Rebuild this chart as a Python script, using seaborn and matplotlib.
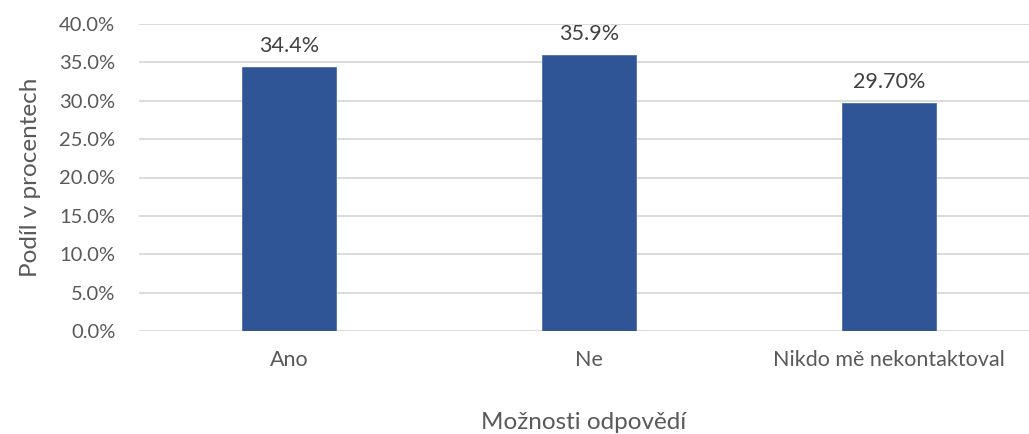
import numpy as np
import pandas as pd
import matplotlib
matplotlib.use("Agg")
import matplotlib.pyplot as plt
import seaborn as sns
from matplotlib.ticker import FuncFormatter, MultipleLocator

# data
categories = ["Ano", "Ne", "Nikdo mě nekontaktoval"]
shares = [34.4, 35.9, 29.7]
value_labels = ["34.4%", "35.9%", "29.70%"]

sns.set_theme(style="white")
plt.rcParams['font.family'] = ['Lato', 'DejaVu Sans']

text_col = "#595959"
bar_col = "#2F5597"

df = pd.DataFrame({"moznost": categories, "podil": shares})

fig = plt.figure(figsize=(10.29, 4.34), dpi=100)
ax = fig.add_axes([139 / 1029, 103 / 434, 890 / 1029, 307 / 434])

sns.barplot(data=df, x="moznost", y="podil", ax=ax, color=bar_col,
            width=0.313, saturation=1, edgecolor="#4A6FB0", linewidth=0.6, zorder=3)

ax.set_ylim(0, 40)
ax.set_xlim(-0.5, 2.467)
ax.yaxis.set_major_locator(MultipleLocator(5))
ax.yaxis.set_major_formatter(FuncFormatter(lambda v, p: f"{v:.1f}%"))
ax.grid(axis="y", color="#D9D9D9", linewidth=1.3, zorder=0)
ax.set_axisbelow(True)
for s in ax.spines.values():
    s.set_visible(False)

ax.tick_params(axis="y", length=0, pad=17, labelsize=14.5, labelcolor=text_col)
ax.tick_params(axis="x", length=0, pad=14, labelsize=15.5, labelcolor=text_col)

for i, (v, lab) in enumerate(zip(shares, value_labels)):
    ax.annotate(lab, (i, v), xytext=(0, 8), textcoords="offset points",
                ha="center", va="bottom", fontsize=15.5, color="#404040")

ax.set_xlabel("Možnosti odpovědí", fontsize=17.5, color=text_col, labelpad=30)
ax.set_ylabel("Podíl v procentech", fontsize=17.5, color=text_col, labelpad=13)

fig.savefig("out.png", dpi=100, facecolor="white")
